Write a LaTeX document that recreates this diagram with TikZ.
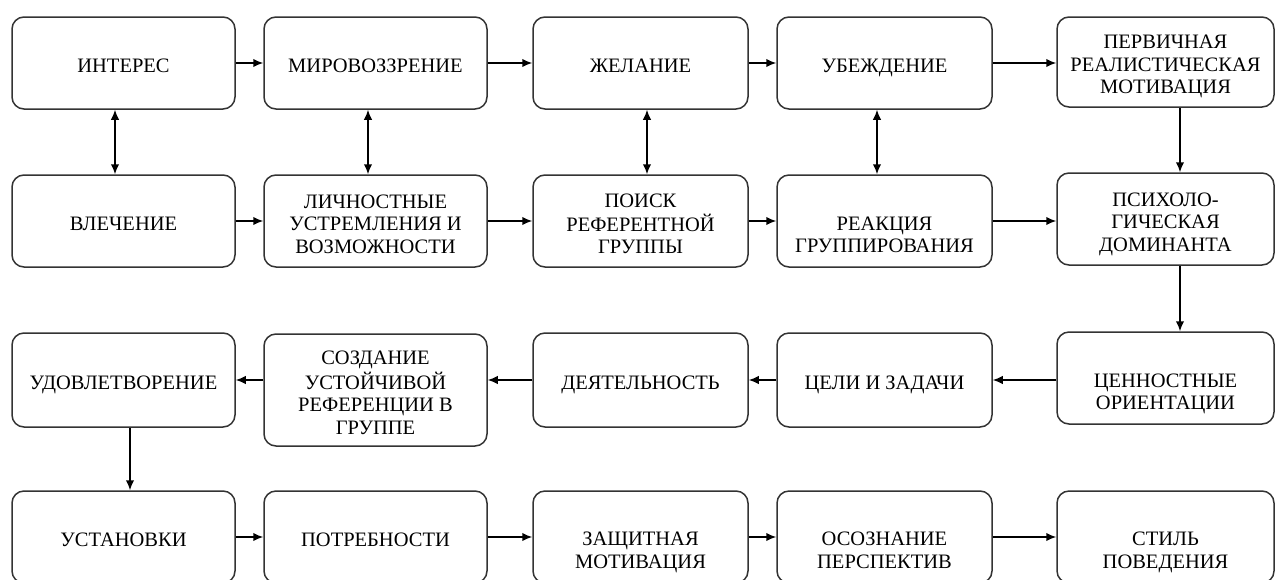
\documentclass[tikz,border=0pt]{standalone}
\usepackage{fontspec}
\setmainfont{Liberation Serif}
\usetikzlibrary{arrows.meta}
\setlength{\tabcolsep}{0pt}
\newcommand\bx[7]{%
  \node[box, minimum width=#4pt, minimum height=#5pt] (#1) at (#2,#3) {};
  \node[txt] (#1t) at ([yshift=-#6pt]#1.center) {\begin{tabular}{c}#7\end{tabular}};}
\begin{document}
\begin{tikzpicture}[x=1pt,y=-1pt,
  box/.style={draw=black!80, line width=1.5pt, rounded corners=12pt, inner sep=0pt},
  txt/.style={font=\fontsize{20.5}{22.5}\selectfont, inner sep=0pt, text=black},
  tip/.tip={Latex[length=10pt,width=8.5pt]},
  arr/.style={line width=1.6pt, -tip},
  darr/.style={line width=1.6pt, tip-tip}]
\useasboundingbox (0,0) rectangle (1276,579);
\clip (0,0) rectangle (1276,579);
% row 1
\bx{a1}{123.5}{63}{223}{92}{5}{ИНТЕРЕС}
\bx{a2}{375.5}{63}{223}{92}{5}{МИРОВОЗЗРЕНИЕ}
\bx{a3}{640.5}{63}{215}{92}{5}{ЖЕЛАНИЕ}
\bx{a4}{884.5}{63}{215}{92}{5}{УБЕЖДЕНИЕ}
\bx{a5}{1165.5}{62}{217}{90}{4.5}{ПЕРВИЧНАЯ\\РЕАЛИСТИЧЕСКАЯ\\МОТИВАЦИЯ}
% row 2
\bx{b1}{123.5}{221}{223}{92}{5}{ВЛЕЧЕНИЕ}
\bx{b2}{375.5}{221}{223}{92}{5}{ЛИЧНОСТНЫЕ\\УСТРЕМЛЕНИЯ И\\ВОЗМОЖНОСТИ}
\bx{b3}{640.5}{221}{215}{92}{5}{ПОИСК\\РЕФЕРЕНТНОЙ\\ГРУППЫ}
\bx{b4}{884.5}{221}{215}{92}{16}{РЕАКЦИЯ\\ГРУППИРОВАНИЯ}
\bx{b5}{1165.5}{219}{217}{92}{5}{ПСИХОЛО-\\ГИЧЕСКАЯ\\ДОМИНАНТА}
% row 3
\bx{c1}{123.5}{380}{223}{94}{5}{УДОВЛЕТВОРЕНИЕ}
\bx{c2}{375.5}{390}{223}{112}{5}{СОЗДАНИЕ\\УСТОЙЧИВОЙ\\РЕФЕРЕНЦИИ В\\ГРУППЕ}
\bx{c3}{640.5}{380}{215}{94}{5}{ДЕЯТЕЛЬНОСТЬ}
\bx{c4}{884.5}{380}{215}{94}{5}{ЦЕЛИ И ЗАДАЧИ}
\bx{c5}{1165.5}{378}{217}{92}{16}{ЦЕННОСТНЫЕ\\ОРИЕНТАЦИИ}
% row 4
\bx{d1}{123.5}{537}{223}{92}{5}{УСТАНОВКИ}
\bx{d2}{375.5}{537}{223}{92}{5}{ПОТРЕБНОСТИ}
\bx{d3}{640.5}{537}{215}{92}{15.5}{ЗАЩИТНАЯ\\МОТИВАЦИЯ}
\bx{d4}{884.5}{537}{215}{92}{15.5}{ОСОЗНАНИЕ\\ПЕРСПЕКТИВ}
\bx{d5}{1165.5}{537}{217}{92}{15.5}{СТИЛЬ\\ПОВЕДЕНИЯ}
% row 1 arrows
\draw[arr] (a1.east) -- (a2.west);
\draw[arr] (a2.east) -- (a3.west);
\draw[arr] (a3.east) -- (a4.west);
\draw[arr] (a4.east) -- (a4.east -| a5.west);
% vertical double arrows
\draw[darr] ([xshift=-8.5pt]a1.south) -- ([xshift=-8.5pt]b1.north);
\draw[darr] ([xshift=-7.5pt]a2.south) -- ([xshift=-7.5pt]b2.north);
\draw[darr] ([xshift=6.5pt]a3.south) -- ([xshift=6.5pt]b3.north);
\draw[darr] ([xshift=-7.5pt]a4.south) -- ([xshift=-7.5pt]b4.north);
% row 2 arrows
\draw[arr] (b1.east) -- (b2.west);
\draw[arr] (b2.east) -- (b3.west);
\draw[arr] (b3.east) -- (b4.west);
\draw[arr] (b4.east) -- (b4.east -| b5.west);
% right column
\draw[arr] ([xshift=14.5pt]a5.south) -- ([xshift=14.5pt]b5.north);
\draw[arr] ([xshift=14.5pt]b5.south) -- ([xshift=14.5pt]c5.north);
% row 3 arrows (leftwards)
\draw[arr] (c4.east -| c5.west) -- (c4.east);
\draw[arr] (c4.west) -- (c3.east);
\draw[arr] (c3.west) -- (c3.west -| c2.east);
\draw[arr] (c1.east -| c2.west) -- (c1.east);
% down to row 4
\draw[arr] ([xshift=6.5pt]c1.south) -- ([xshift=6.5pt]d1.north);
% row 4 arrows
\draw[arr] (d1.east) -- (d2.west);
\draw[arr] (d2.east) -- (d3.west);
\draw[arr] (d3.east) -- (d4.west);
\draw[arr] (d4.east) -- (d5.west);
\end{tikzpicture}
\end{document}
